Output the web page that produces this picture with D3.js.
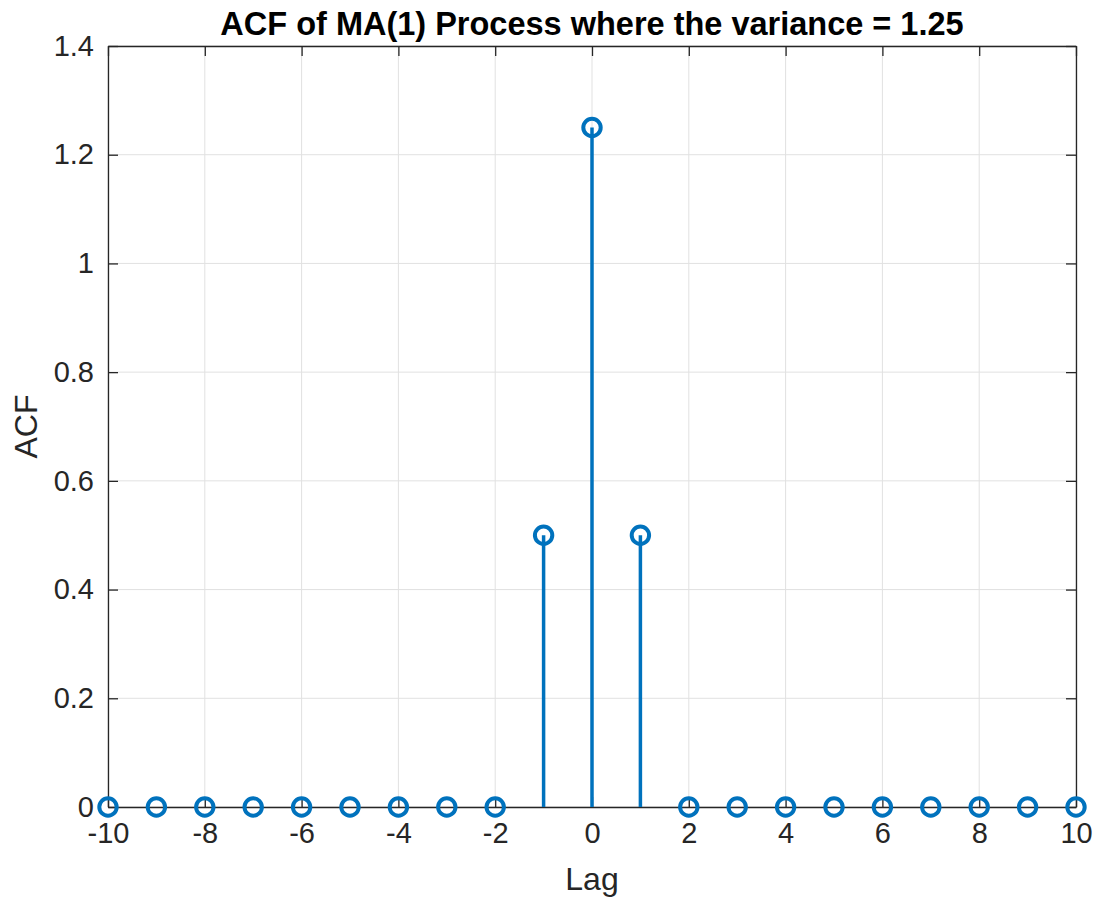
<!DOCTYPE html>
<html>
<head>
<meta charset="utf-8">
<script src="https://cdn.jsdelivr.net/npm/d3@7"></script>
<style>
  body { margin: 0; background: #fff; }
  text { font-family: "Liberation Sans", Arial, sans-serif; fill: #262626; }
</style>
</head>
<body>
<div id="chart"></div>
<script>
// data
var lags = [-10, -9, -8, -7, -6, -5, -4, -3, -2, -1, 0, 1, 2, 3, 4, 5, 6, 7, 8, 9, 10];
var acf = [0, 0, 0, 0, 0, 0, 0, 0, 0, 0.5, 1.25, 0.5, 0, 0, 0, 0, 0, 0, 0, 0, 0];
var xTicks = [-10, -8, -6, -4, -2, 0, 2, 4, 6, 8, 10];
var yTicks = [0, 0.2, 0.4, 0.6, 0.8, 1, 1.2, 1.4];

var margin = { top: 46, right: 20, bottom: 90, left: 108 },
    width = 1096 - margin.left - margin.right,
    height = 897 - margin.top - margin.bottom;

var svg = d3.select("#chart")
    .append("svg")
    .attr("width", 1096)
    .attr("height", 897)
    .append("g")
    .attr("transform", "translate(" + margin.left + "," + margin.top + ")");

var x = d3.scaleLinear().domain([-10, 10]).range([0, width]);
var y = d3.scaleLinear().domain([0, 1.4]).range([height, 0]);

// grid
svg.selectAll("xgrid")
    .data(xTicks)
    .enter()
    .append("line")
    .attr("x1", function (d) { return x(d); })
    .attr("x2", function (d) { return x(d); })
    .attr("y1", 0)
    .attr("y2", height)
    .attr("stroke", "#e1e1e1")
    .attr("stroke-width", 1);

svg.selectAll("ygrid")
    .data(yTicks)
    .enter()
    .append("line")
    .attr("x1", 0)
    .attr("x2", width)
    .attr("y1", function (d) { return y(d); })
    .attr("y2", function (d) { return y(d); })
    .attr("stroke", "#e1e1e1")
    .attr("stroke-width", 1);

// axes (ticks inward, box)
var fmt = function (d) { return String(d); };
var xAxis = svg.append("g")
    .attr("transform", "translate(0," + height + ")")
    .call(d3.axisBottom(x).tickValues(xTicks).tickSizeInner(-10).tickSizeOuter(0).tickPadding(15).tickFormat(fmt));
var xTop = svg.append("g")
    .call(d3.axisTop(x).tickValues(xTicks).tickSizeInner(-10).tickSizeOuter(0).tickFormat(""));
var yAxis = svg.append("g")
    .call(d3.axisLeft(y).tickValues(yTicks).tickSizeInner(-10).tickSizeOuter(0).tickPadding(14).tickFormat(fmt));
var yRight = svg.append("g")
    .attr("transform", "translate(" + width + ",0)")
    .call(d3.axisRight(y).tickValues(yTicks).tickSizeInner(-10).tickSizeOuter(0).tickFormat(""));

[xAxis, xTop, yAxis, yRight].forEach(function (g) {
    g.selectAll("path").attr("stroke", "#262626").attr("stroke-width", 1.3);
    g.selectAll("line").attr("stroke", "#262626").attr("stroke-width", 1.3);
    g.selectAll("text").style("font-size", "29px").attr("fill", "#262626")
        .style("font-family", "'Liberation Sans', Arial, sans-serif");
});

// stems
svg.selectAll("stem")
    .data(lags)
    .enter()
    .append("line")
    .attr("x1", function (d) { return x(d); })
    .attr("x2", function (d) { return x(d); })
    .attr("y1", y(0))
    .attr("y2", function (d, i) { return y(acf[i]); })
    .attr("stroke", "#0072bd")
    .attr("stroke-width", 3.5);

// markers
svg.selectAll("mark")
    .data(lags)
    .enter()
    .append("circle")
    .attr("cx", function (d) { return x(d); })
    .attr("cy", function (d, i) { return y(acf[i]); })
    .attr("r", 8.7)
    .attr("fill", "none")
    .attr("stroke", "#0072bd")
    .attr("stroke-width", 4);

// labels
svg.append("text")
    .attr("x", width / 2)
    .attr("y", -11)
    .attr("text-anchor", "middle")
    .style("font-size", "32.5px")
    .style("font-weight", "bold")
    .style("fill", "#000")
    .text("ACF of MA(1) Process where the variance = 1.25");

svg.append("text")
    .attr("x", width / 2)
    .attr("y", height + 83)
    .attr("text-anchor", "middle")
    .style("font-size", "32px")
    .text("Lag");

svg.append("text")
    .attr("transform", "translate(-71," + (height / 2) + ") rotate(-90)")
    .attr("text-anchor", "middle")
    .style("font-size", "32px")
    .text("ACF");
</script>
</body>
</html>
